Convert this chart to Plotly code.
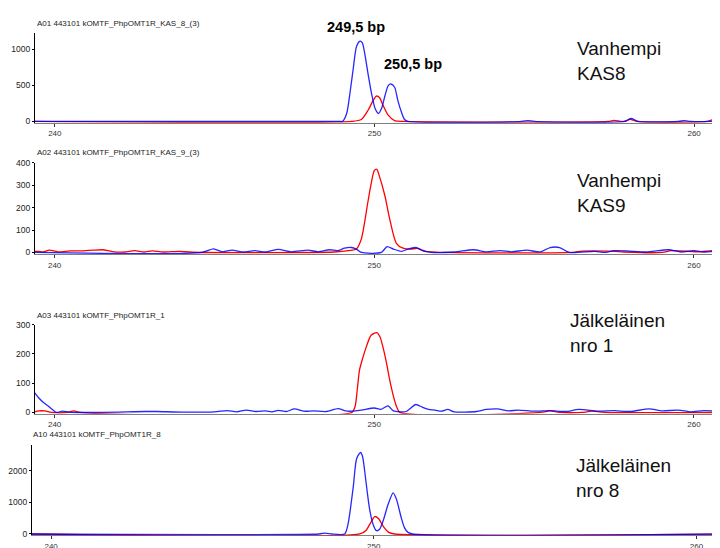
import plotly.graph_objects as go

W, H = 720, 548
OFF = 8  # page body margin in the browser; figure is shifted by this amount

# ---------------- data ----------------
titles = ["A01 443101 kOMTF_PhpOMT1R_KAS_8_(3)",
          "A02 443101 kOMTF_PhpOMT1R_KAS_9_(3)",
          "A03 443101 kOMTF_PhpOMT1R_1",
          "A10 443101 kOMTF_PhpOMT1R_8"]
labels = ["Vanhempi<br>KAS8", "Vanhempi<br>KAS9", "Jälkeläinen<br>nro 1", "Jälkeläinen<br>nro 8"]
xticks = [240, 250, 260]
yticks = [[0, 500, 1000], [0, 100, 200, 300, 400], [0, 100, 200, 300], [0, 1000, 2000]]
peak_labels = ["249,5 bp", "250,5 bp"]

# Panel 1 (KAS8)
p1_blue_x = [239.38, 248.9, 249.0, 249.13, 249.23, 249.34, 249.44, 249.55, 249.62, 249.7, 249.8, 249.91,
             250.02, 250.12, 250.22, 250.33, 250.43, 250.51, 250.63, 250.73, 250.84, 250.94, 251.05,
             254.6, 254.8, 255.0, 257.8, 258.03, 258.25, 259.5, 259.7, 259.9, 260.5, 260.8, 261.1]
p1_blue_y = [0, 0, 0, 110, 384, 749, 1045, 1114, 1092, 931, 657, 384,
             178, 110, 178, 360, 497, 520, 475, 292, 133, 27, 0,
             0, 12, 0, 0, 40, 0, 0, 10, 0, 0, 8, 0]
p1_red_x = [239.38, 249.28, 249.59, 249.8, 249.96, 250.06, 250.16, 250.27, 250.43, 250.63, 250.9,
            257.3, 257.5, 257.7, 257.85, 258.0, 258.2, 260.4, 260.6, 260.85, 261.1]
p1_red_y = [0, 0, 27, 155, 292, 352, 329, 223, 86, 10, 0,
            0, 15, 0, 0, 28, 0, 0, 25, 10, 0]

# Panel 2 (KAS9)
p2_blue_x = [239.38, 244.6, 244.97, 245.25, 245.55, 245.9, 246.26, 246.6, 247.0, 247.4, 247.93, 248.25,
             248.6, 248.85, 249.07, 249.28, 249.44, 249.6, 250.22, 250.4, 250.6, 250.85, 251.06, 251.32,
             251.5, 251.77, 252.5, 253.1, 253.5, 253.94, 254.3, 254.77, 255.2, 255.5, 255.8, 256.1,
             256.9, 257.2, 257.5, 257.9, 258.5, 259.2, 259.6, 260.0, 260.35, 260.7, 261.1]
p2_blue_y = [0, 0, 16, 3, 10, 2, 8, 2, 14, 3, 10, 3,
             12, 8, 19, 22, 15, 0, 0, 26, 15, 5, 15, 22,
             10, 0, 2, 12, 3, 8, 3, 10, 3, 22, 22, 0,
             5, 0, 8, 7, 2, 12, 2, 8, 2, 6, 3]
p2_red_x = [239.38, 239.5, 239.65, 239.83, 240.1, 240.5, 240.9, 241.2, 241.5, 241.8, 242.2, 242.5, 242.8,
            243.05, 243.4, 243.9, 244.3, 248.75, 249.2, 249.44, 249.6, 249.8, 249.91, 250.0, 250.08,
            250.15, 250.33, 250.48, 250.69, 250.9, 251.14, 251.35, 251.56, 251.77, 252.2, 256.2, 256.5,
            257.5, 257.8, 259.0, 259.3, 260.2, 260.5, 260.81, 261.1]
p2_red_y = [5, 5, 2, 10, 3, 7, 7, 10, 12, 4, 2, 8, 2,
            7, 2, 5, 1, 2, 8, 15, 63, 225, 313, 365, 371,
            345, 254, 151, 41, 19, 15, 18, 5, 3, 0, 0, 6,
            5, 2, 0, 8, 3, 7, 8, 4]

# Panel 3 (nro 1)
p3_blue_x = [239.38, 239.5, 239.65, 239.8, 239.93, 240.05, 240.25, 240.5, 242.85, 243.2, 244.0, 245.0,
             245.4, 245.7, 246.0, 246.3, 246.6, 246.8, 247.0, 247.25, 247.5, 247.8, 248.1, 248.5,
             248.87, 249.1, 249.3, 249.6, 250.0, 250.2, 250.43, 250.6, 250.8, 251.0, 251.3, 251.5,
             251.7, 251.9, 252.1, 252.3, 252.5, 253.2, 253.5, 253.85, 254.2, 254.5, 255.0, 255.5,
             256.0, 256.4, 257.0, 257.5, 258.0, 258.6, 259.0, 259.5, 259.9, 260.3, 260.8, 261.1]
p3_blue_y = [67, 50, 34, 22, 10, 0, 4, 0, 3, 3, 1, 2,
             6, 2, 8, 3, 5, 2, 7, 3, 12, 4, 5, 3,
             13, 5, 4, 8, 15, 10, 22, 5, 2, 3, 27, 18,
             10, 8, 4, 10, 2, 3, 10, 12, 5, 8, 4, 6,
             3, 10, 4, 6, 3, 12, 5, 8, 2, 6, 4, 2]
p3_red_x = [239.38, 239.5, 239.7, 239.9, 240.4, 240.6, 240.8, 249.3, 249.4, 249.47, 249.54, 249.65, 249.75,
            249.9, 250.08, 250.18, 250.27, 250.38, 250.48, 250.6, 250.69, 250.8, 255.2, 255.5, 255.8,
            256.5, 256.8, 257.2, 261.1]
p3_red_y = [2, 5, 5, 0, 0, 5, 0, 0, 20, 80, 146, 190, 224,
            264, 273, 258, 224, 170, 112, 55, 22, 0, 0, 5, 0,
            0, 4, 0, 0]

# Panel 4 (nro 8)
p4_blue_x = [239.4, 248.3, 248.5, 248.7, 249.1, 249.2, 249.36, 249.47, 249.59, 249.65, 249.72, 249.8,
             249.88, 249.98, 250.08, 250.18, 250.29, 250.45, 250.6, 250.7, 250.85, 250.95, 251.06,
             251.2, 261.0]
p4_blue_y = [0, 0, 30, 0, 0, 300, 1450, 2380, 2568, 2450, 1970, 1300,
             727, 300, 105, 150, 416, 950, 1295, 1100, 520, 200, 50,
             0, 0]
p4_red_x = [239.4, 249.57, 249.75, 249.9, 250.03, 250.15, 250.3, 250.45, 250.65, 261.0]
p4_red_y = [0, 0, 100, 350, 550, 480, 230, 60, 0, 0]

panels = [
    dict(bx=p1_blue_x, by=p1_blue_y, rx=p1_red_x, ry=p1_red_y),
    dict(bx=p2_blue_x, by=p2_blue_y, rx=p2_red_x, ry=p2_red_y),
    dict(bx=p3_blue_x, by=p3_blue_y, rx=p3_red_x, ry=p3_red_y),
    dict(bx=p4_blue_x, by=p4_blue_y, rx=p4_red_x, ry=p4_red_y),
]

# ---------------- layout geometry (reference-image pixels) ----------------
geom = [
    dict(y0=118.0, top=28.7, topval=1223, left=32, x240=52.0, ppu=32.1),
    dict(y0=251.0, top=160.0, topval=400, left=32, x240=51.8, ppu=32.1),
    dict(y0=413.3, top=324.3, topval=300, left=32, x240=51.8, ppu=32.1),
    dict(y0=536.7, top=446.0, topval=2817, left=29, x240=48.3, ppu=32.4),
]
title_pos = [(32, 19), (32, 150), (32, 315), (28, 436)]
label_pos = [(574, 57), (574, 190.5), (567, 333), (573, 480)]
peak_pos = [(354, 22), (412, 60)]


def fx(px):
    return (px - OFF) / W


def fy(py):
    return 1 - (py - OFF) / H


FONT = "Liberation Sans, Arial, sans-serif"
fig = go.Figure()
layout = dict(width=W, height=H, margin=dict(l=0, r=0, t=0, b=0),
              paper_bgcolor="white", plot_bgcolor="white", showlegend=False)
annotations = []

for i, (p, g) in enumerate(zip(panels, geom)):
    n = "" if i == 0 else str(i + 1)
    scale = (g["y0"] - g["top"]) / g["topval"]
    pad = 1.5
    ymin = -pad / scale
    bottom_px = g["y0"] + pad
    xmin = 240 + (g["left"] - g["x240"]) / g["ppu"]
    xmax = 240 + (W + OFF - g["x240"]) / g["ppu"]
    layout["xaxis" + n] = dict(
        domain=[fx(g["left"]), 1], range=[xmin, xmax], anchor="y" + n,
        showline=True, linecolor="#808080", linewidth=1, layer="below traces",
        ticks="outside", ticklen=3, tickcolor="#333", tickwidth=1,
        tickvals=xticks, tickfont=dict(size=8, color="#333", family=FONT),
        showgrid=False, zeroline=False, fixedrange=True)
    layout["yaxis" + n] = dict(
        domain=[fy(bottom_px), fy(g["top"])], range=[ymin, g["topval"]], anchor="x" + n,
        showline=True, linecolor="black", linewidth=1,
        ticks="outside", ticklen=2, tickcolor="black",
        tickvals=yticks[i], tickfont=dict(size=8.5, color="#222", family=FONT),
        showgrid=False, zeroline=False, fixedrange=True)
    fig.add_trace(go.Scatter(x=p["rx"], y=p["ry"], mode="lines", xaxis="x" + n, yaxis="y" + n,
                             line=dict(color="#ff0000", width=1.3, shape="spline", smoothing=0.7),
                             hoverinfo="skip"))
    fig.add_trace(go.Scatter(x=p["bx"], y=p["by"], mode="lines", xaxis="x" + n, yaxis="y" + n,
                             line=dict(color="#0000ff", width=1.3, shape="spline", smoothing=0.7),
                             opacity=0.85, hoverinfo="skip"))
    tx, ty = title_pos[i]
    annotations.append(dict(text=titles[i], x=fx(tx), y=fy(ty), xref="paper", yref="paper",
                            xanchor="left", yanchor="middle", showarrow=False,
                            font=dict(size=8, color="#222", family=FONT)))
    lx, ly = label_pos[i]
    annotations.append(dict(text=labels[i], x=fx(lx), y=fy(ly), xref="paper", yref="paper",
                            xanchor="left", yanchor="middle", align="left", showarrow=False,
                            font=dict(size=19, color="#111", family=FONT)))

for (px, py), txt in zip(peak_pos, peak_labels):
    annotations.append(dict(text="<b>" + txt + "</b>", x=fx(px), y=fy(py),
                            xref="paper", yref="paper", xanchor="center", yanchor="middle",
                            showarrow=False, font=dict(size=14.5, color="black", family=FONT)))

layout["annotations"] = annotations
fig.update_layout(**layout)
fig.write_html("out.html")
